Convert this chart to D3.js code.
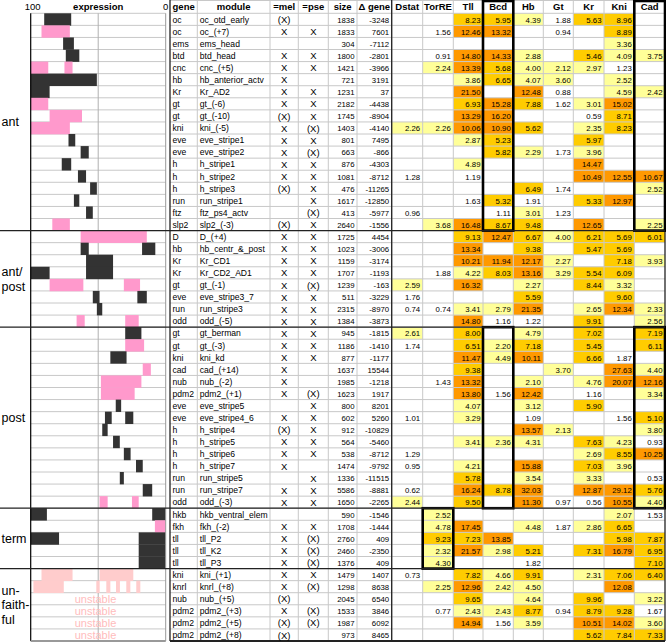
<!DOCTYPE html>
<html><head><meta charset="utf-8">
<script src="https://cdn.jsdelivr.net/npm/d3@7"></script>
<style>
html,body{margin:0;padding:0;background:#fff;}
svg{display:block;font-family:"Liberation Sans",Arial,sans-serif;}
</style></head>
<body>
<svg id="chart" width="666" height="643"></svg>
<script>
// ---------------- DATA ----------------
const groups = [
  {name:["ant"], n:18},
  {name:["ant/","post"], n:8},
  {name:["post"], n:15},
  {name:["term"], n:5},
  {name:["un-","faith-","ful"], n:6}
];
const genes = ["oc","oc","ems","btd","cnc","hb","Kr","gt","gt","kni",
  "eve","eve","h","h","h","run","ftz","slp2","D","hb",
  "Kr","Kr","gt","eve","run","odd","gt","gt","kni","cad",
  "nub","pdm2","eve","eve","h","h","h","h","run","run",
  "odd","hkb","fkh","tll","tll","tll","kni","knrl","nub","pdm2",
  "pdm2","pdm2"];
const modules = ["oc_otd_early","oc_(+7)","ems_head","btd_head","cnc_(+5)","hb_anterior_actv","Kr_AD2","gt_(-6)","gt_(-10)","kni_(-5)",
  "eve_stripe1","eve_stripe2","h_stripe1","h_stripe2","h_stripe3","run_stripe1","ftz_ps4_actv","slp2_(-3)","D_(+4)","hb_centr_&_post",
  "Kr_CD1","Kr_CD2_AD1","gt_(-1)","eve_stripe3_7","run_stripe3","odd_(-5)","gt_berman","gt_(-3)","kni_kd","cad_(+14)",
  "nub_(-2)","pdm2_(+1)","eve_stripe5","eve_stripe4_6","h_stripe4","h_stripe5","h_stripe6","h_stripe7","run_stripe5","run_stripe7",
  "odd_(-3)","hkb_ventral_elem","fkh_(-2)","tll_P2","tll_K2","tll_P3","kni_(+1)","knrl_(+8)","nub_(+5)","pdm2_(+3)",
  "pdm2_(+5)","pdm2_(+8)"];
const mel = ["(X)","X","","X","X","X","X","X","(X)","X",
  "X","X","X","X","(X)","","","(X)","X","X",
  "X","X","X","X","X","X","X","X","X","X",
  "X","X","","X","(X)","X","X","X","","X",
  "X","","X","X","X","X","X","X","(X)","X",
  "(X)","(X)"];
const pse = ["","X","","X","X","","X","X","X","(X)",
  "X","(X)","X","X","X","X","(X)","X","X","X",
  "X","X","(X)","X","X","X","X","X","X","",
  "","(X)","X","X","X","X","X","","X","X",
  "X","","X","(X)","(X)","(X)","X","(X)","","(X)",
  "(X)",""];
const sizes = [1838,1833,304,1800,1421,721,1231,2182,1745,1403,
  801,663,876,1081,476,1617,413,2640,1725,1023,
  1159,1707,1239,511,2315,1384,945,1186,877,1637,
  1985,1623,800,602,912,564,538,1474,1336,5586,
  1650,590,1708,2760,2460,1376,1479,1298,2045,1533,
  1987,973];
const deltaGene = [-3248,7601,-7112,-2801,-3966,3191,37,-4438,-8904,-4140,
  7495,-866,-4303,-8712,-11265,-12850,-5977,-1556,4454,-3006,
  -3174,-1193,-163,-3229,-8970,-3873,-1815,-1410,-1177,15544,
  -1218,1917,8201,5260,-10829,-5460,-8712,-9792,-11515,-8881,
  -2265,-1546,-1444,409,-2350,409,1407,8638,6540,3846,
  6092,8465];
const dstat = [null,null,null,null,null,null,null,null,null,2.26,
  null,null,null,1.28,null,null,0.96,null,null,null,
  null,null,2.59,1.76,0.74,null,2.61,1.74,null,null,
  null,null,null,1.01,null,null,1.29,0.95,null,0.62,
  2.44,null,null,null,null,null,0.73,null,null,null,
  null,null];
const torre = [null,1.56,null,0.91,2.24,null,null,null,null,2.26,
  null,null,null,null,null,null,null,3.68,null,null,
  null,1.88,null,null,0.74,null,null,null,null,null,
  1.43,null,null,null,null,null,null,null,null,null,
  null,2.52,4.78,9.23,2.32,4.30,null,2.25,null,0.77,
  null,null];
const tll = [8.23,12.46,null,14.80,13.39,3.86,21.50,6.93,13.29,10.06,
  2.87,null,4.89,1.19,null,1.63,null,16.48,9.13,13.34,
  10.21,4.22,16.32,null,3.41,14.80,8.00,6.51,11.47,9.38,
  13.32,13.80,4.07,3.29,null,3.41,null,4.21,5.78,16.24,
  9.50,null,17.45,7.23,21.57,null,7.82,12.96,9.65,2.43,
  14.94,null];
const bcd = [5.95,13.32,null,14.33,5.68,6.65,null,15.28,16.20,10.90,
  5.23,5.82,null,null,null,5.32,1.11,8.67,12.47,null,
  11.94,8.03,null,null,2.79,1.16,null,2.20,4.49,null,
  null,1.56,null,null,null,2.36,null,null,null,8.78,
  null,null,null,13.85,2.98,null,4.66,2.42,null,2.43,
  1.56,null];
const hb = [4.39,null,null,2.88,4.00,4.07,12.48,7.88,null,5.62,
  null,2.29,null,null,6.49,1.91,3.01,9.48,6.67,9.38,
  12.17,13.16,2.27,5.59,21.35,1.22,4.79,7.18,10.11,null,
  2.10,12.42,3.12,1.09,13.57,4.31,null,15.88,3.54,32.03,
  11.30,null,4.48,null,5.21,1.82,9.91,4.50,4.64,8.77,
  3.59,null];
const gt = [1.88,0.94,null,null,2.12,3.60,0.88,1.62,null,null,
  null,1.73,null,null,1.74,null,1.23,null,4.00,null,
  2.27,3.29,null,null,null,null,null,null,null,3.70,
  null,null,null,null,2.13,null,null,null,null,null,
  0.97,null,1.87,null,null,null,null,null,null,0.94,
  null,null];
const kr = [5.63,null,null,5.46,2.97,null,null,3.01,0.59,2.35,
  5.97,3.96,14.47,10.49,null,5.33,null,12.65,6.21,5.47,
  null,5.54,8.44,null,2.65,9.91,7.02,5.45,6.66,null,
  4.76,1.16,5.90,null,null,7.63,2.69,7.03,3.33,12.87,
  0.56,null,2.86,null,7.31,null,2.31,null,9.96,8.79,
  10.51,5.62];
const kni = [8.96,8.89,3.36,4.09,1.23,2.52,4.59,15.02,8.71,8.23,
  null,null,null,12.55,null,12.97,null,null,5.69,5.69,
  7.18,6.09,3.32,9.60,12.34,null,null,null,1.87,27.63,
  20.07,null,null,1.56,null,4.23,8.55,3.96,null,29.12,
  10.55,2.07,6.65,5.98,16.79,null,7.06,12.08,null,9.28,
  14.02,7.84];
const cad = [null,null,null,3.75,null,null,2.42,null,null,null,
  null,null,null,10.67,2.52,null,null,2.25,6.01,null,
  3.93,null,null,null,2.33,2.56,7.19,6.11,null,4.40,
  12.16,3.34,null,5.10,3.80,0.93,10.25,null,0.53,5.76,
  4.40,1.53,null,7.87,6.95,7.10,6.40,null,3.22,1.67,
  3.60,7.33];
// expression domains: [row (1-based), from %, to %, kind] (b = black, p = pink, f = faint/unfaithful)
const exprBars = [
  [1,90,70,"b"],[2,92,71,"p"],[3,76,68,"b"],[4,74,64,"b"],[5,100,87,"p"],[5,75,69,"p"],
  [6,100,51,"b"],[7,100,86,"b"],[8,100,87,"p"],[9,86,62,"p"],[10,100,71,"p"],[11,72,67,"b"],
  [12,63,57,"b"],[13,77,70,"b"],[14,65,59,"b"],[15,56,51,"b"],[16,68,64,"b"],[17,59,54,"b"],
  [18,84,71,"p"],
  [19,63,14,"p"],[20,63,57,"b"],[20,17.5,7.7,"b"],[21,59,39,"b"],[22,100,86,"b"],[22,59,39,"b"],
  [23,86,61,"p"],[23,31,19,"p"],[24,54,49,"b"],[24,21,14,"b"],[25,51,47,"b"],[26,66,60,"p"],[26,30,20,"p"],
  [27,30,18,"b"],[28,30,16,"p"],[29,41,29,"b"],[30,17,11,"p"],[31,48,18,"p"],[32,48,23,"p"],
  [33,37,33,"b"],[34,45,40,"b"],[34,30,24,"b"],[35,47,43,"b"],[36,39,34,"b"],[37,31,26,"b"],
  [38,22,17,"b"],[39,34,31,"b"],[40,17,10,"b"],[41,49,43,"p"],[41,25,20,"p"],
  [42,100,88,"b"],[42,10,0,"b"],[43,8,0,"p"],[44,100,79,"b"],[44,20,0,"b"],[45,20,0,"b"],[46,20,0,"b"],
  [47,92,69,"f"],[47,49,24,"f"],[48,98,75.5,"f"],[48,51.4,48.9,"f"],[48,44,41,"f"],
  [48,36.8,33.9,"f"],[48,29.2,26.2,"f"],[48,21.8,18.8,"f"]
];
const unstableRows = [49,50,51,52];
const exprTicks = [100,0];

// ---------------- LAYOUT ----------------
const svg = d3.select("#chart");
const N = genes.length;
const yTop = 13.3, yBot = 641;
const y = d3.scaleBand().domain(d3.range(N)).range([yTop, yBot]).paddingInner(0);
const rh = y.bandwidth();
const xE = d3.scaleLinear().domain([100,0]).range([30.7,165.7]);

const columns = [
  {key:"gene", head:"gene", vals:genes, type:"left"},
  {key:"module", head:"module", vals:modules, type:"left"},
  {key:"mel", head:"=mel", vals:mel, type:"x"},
  {key:"pse", head:"=pse", vals:pse, type:"x"},
  {key:"size", head:"size", vals:sizes, type:"int"},
  {key:"dg", head:"\u0394 gene", vals:deltaGene, type:"int"},
  {key:"dstat", head:"Dstat", vals:dstat, type:"num"},
  {key:"torre", head:"TorRE", vals:torre, type:"num"},
  {key:"tll", head:"Tll", vals:tll, type:"num"},
  {key:"bcd", head:"Bcd", vals:bcd, type:"num"},
  {key:"hb", head:"Hb", vals:hb, type:"num"},
  {key:"gt", head:"Gt", vals:gt, type:"num"},
  {key:"kr", head:"Kr", vals:kr, type:"num"},
  {key:"kni", head:"Kni", vals:kni, type:"num"},
  {key:"cad", head:"Cad", vals:cad, type:"num"}
];
const edges = [170,197.3,270,298.3,328.3,357,391.7,422.7,453.3,483,513.3,543.3,573.3,604,634.3,665];
columns.forEach((c,i)=>{c.x0=edges[i]; c.x1=edges[i+1];});
const colByKey = Object.fromEntries(columns.map(c=>[c.key,c]));

const fill = d3.scaleThreshold().domain([2,5,10]).range(["#ffffff","#ffff99","#ffcc00","#ff9900"]);
const f2 = d3.format(".2f");

// group boundaries
let acc = 0;
const gb = groups.map(g=>{const s=acc; acc+=g.n; return {g, s, e:acc};});

// ---------- left expression panel ----------
const gE = svg.append("g");
gE.selectAll("line.r").data(d3.range(N+1)).join("line")
  .attr("x1",xE(100)).attr("x2",xE(0))
  .attr("y1",i=>i<N?y(i):yBot).attr("y2",i=>i<N?y(i):yBot)
  .attr("stroke","#c8c8c8").attr("stroke-width",1);
gE.append("line").attr("x1",xE(50)).attr("x2",xE(50)).attr("y1",yTop).attr("y2",yBot)
  .attr("stroke","#b0b0b0").attr("stroke-width",1);
const barCol = {b:"#333333", p:"#ff99cc", f:"#ffcccc"};
gE.selectAll("rect.bar").data(exprBars).join("rect")
  .attr("x",d=>xE(d[1])).attr("width",d=>xE(d[2])-xE(d[1]))
  .attr("y",d=>y(d[0]-1)).attr("height",rh+0.3)
  .attr("fill",d=>barCol[d[3]]);
gE.selectAll("text.un").data(unstableRows).join("text")
  .attr("x",xE(52)).attr("y",r=>y(r-1)+rh/2+4)
  .attr("text-anchor","middle").attr("font-size",11).attr("fill","#ffbcbc")
  .text("unstable");
gE.append("line").attr("x1",xE(100)).attr("x2",xE(100)).attr("y1",yTop).attr("y2",yBot)
  .attr("stroke","#000").attr("stroke-width",1.2);
gE.append("line").attr("x1",xE(0)).attr("x2",xE(0)).attr("y1",yTop).attr("y2",yBot)
  .attr("stroke","#999").attr("stroke-width",1);
gE.append("line").attr("x1",xE(100)).attr("x2",xE(0)).attr("y1",yBot).attr("y2",yBot)
  .attr("stroke","#999").attr("stroke-width",2);
gE.selectAll("text.tk").data(exprTicks).join("text")
  .attr("x",d=>xE(d)+(d===100?2:0)).attr("y",10)
  .attr("text-anchor","middle").attr("font-size",9.5).text(d=>d);
gE.append("text").attr("x",xE(50)).attr("y",10).attr("text-anchor","middle")
  .attr("font-size",9.5).attr("font-weight","bold").text("expression");
gb.forEach(({g,s,e})=>{
  const cy = (y(s)+(e<N?y(e):yBot))/2;
  const lh = 14.5;
  const t = svg.append("text").attr("x",1.5).attr("font-size",12.5).attr("fill","#000");
  g.name.forEach((line,k)=>{
    t.append("tspan").attr("x",1.5)
     .attr("y",cy + (k-(g.name.length-1)/2)*lh + 4.5).text(line);
  });
});

// ---------- table ----------
const gT = svg.append("g");
columns.filter(c=>c.type==="num").forEach(c=>{
  gT.selectAll(null).data(c.vals.map((v,i)=>({v,i})).filter(d=>d.v!=null)).join("rect")
    .attr("x",c.x0).attr("width",c.x1-c.x0).attr("y",d=>y(d.i)).attr("height",rh)
    .attr("fill",d=>fill(d.v));
});
gT.selectAll("line.h").data(d3.range(N)).join("line")
  .attr("x1",edges[0]).attr("x2",edges[edges.length-1])
  .attr("y1",i=>y(i)).attr("y2",i=>y(i)).attr("stroke","#c8c8c8").attr("stroke-width",1);
gT.append("line").attr("x1",edges[0]).attr("x2",edges[edges.length-1]).attr("y1",0.5).attr("y2",0.5)
  .attr("stroke","#c8c8c8");
gT.selectAll("line.v").data(edges.slice(1,-1)).join("line")
  .attr("x1",d=>d).attr("x2",d=>d).attr("y1",0).attr("y2",yBot)
  .attr("stroke","#c8c8c8").attr("stroke-width",1);
[edges[0], colByKey.dstat.x0, edges[edges.length-1]].forEach(x=>{
  gT.append("line").attr("x1",x).attr("x2",x).attr("y1",0).attr("y2",yBot)
    .attr("stroke","#222").attr("stroke-width",1.3);
});
gb.slice(1).forEach(({s})=>{
  svg.append("line").attr("x1",0).attr("x2",edges[edges.length-1])
    .attr("y1",y(s)).attr("y2",y(s)).attr("stroke","#222").attr("stroke-width",1.3);
});
gT.append("line").attr("x1",edges[0]).attr("x2",edges[edges.length-1]).attr("y1",yBot).attr("y2",yBot)
  .attr("stroke","#222").attr("stroke-width",2);

gT.selectAll("text.hd").data(columns).join("text")
  .attr("x",c=>(c.x0+c.x1)/2).attr("y",10)
  .attr("text-anchor","middle").attr("font-size",9.5).attr("font-weight","bold")
  .text(c=>c.head);

columns.forEach(c=>{
  const data = c.vals.map((v,i)=>({v,i})).filter(d=>d.v!=null && d.v!=="");
  const sel = gT.selectAll(null).data(data).join("text")
    .attr("y",d=>y(d.i)+rh/2+3.3).attr("fill","#000");
  if(c.type==="left"){
    sel.attr("x",c.x0+2.5).attr("font-size",8.6).text(d=>d.v);
  } else if(c.type==="x"){
    sel.attr("x",(c.x0+c.x1)/2).attr("text-anchor","middle").attr("font-size",9.5)
      .attr("y",d=>y(d.i)+rh/2+3.6).text(d=>d.v);
  } else if(c.type==="int"){
    sel.attr("x",c.x1-2.5).attr("text-anchor","end").attr("font-size",7.8).text(d=>d.v);
  } else {
    sel.attr("x",c.x1-2.5).attr("text-anchor","end").attr("font-size",7.8).text(d=>f2(d.v));
  }
});

const boxes = [
  {col:"bcd", r0:null, r1:18},
  {col:"cad", r0:null, r1:18},
  {col:"bcd", r0:27, r1:41},
  {col:"cad", r0:27, r1:41},
  {col:"torre", r0:42, r1:46}
];
boxes.forEach(b=>{
  const c = colByKey[b.col];
  const y0 = b.r0==null ? 1 : y(b.r0-1);
  const y1 = b.r1>=N ? yBot : y(b.r1);
  gT.append("rect").attr("x",c.x0).attr("y",y0).attr("width",c.x1-c.x0).attr("height",y1-y0)
    .attr("fill","none").attr("stroke","#000").attr("stroke-width",2.6);
});
</script>
</body></html>
